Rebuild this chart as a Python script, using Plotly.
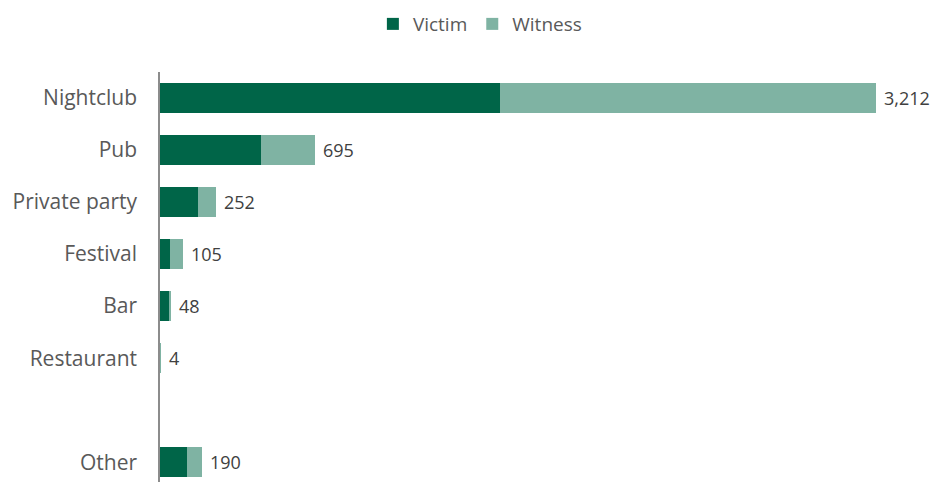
import plotly.graph_objects as go

# Incident locations (top to bottom); blank slot separates "Other"
categories = ["Nightclub", "Pub", "Private party", "Festival", "Bar", "Restaurant", " ", "Other"]
victim = [1523, 454, 170, 43, 39, 3, None, 123]
witness = [1689, 241, 82, 62, 9, 1, None, 67]
totals = [3212, 695, 252, 105, 48, 4, None, 190]
total_labels = ["3,212", "695", "252", "105", "48", "4", "", "190"]

VICTIM_COLOR = "#006548"
WITNESS_COLOR = "#7fb3a3"
TEXT_COLOR = "#595959"
FONT = "Open Sans"

fig = go.Figure()
fig.add_trace(go.Bar(
    y=categories, x=victim, name="Victim", orientation="h",
    marker=dict(color=VICTIM_COLOR, line=dict(width=0)), width=0.58,
))
fig.add_trace(go.Bar(
    y=categories, x=witness, name="Witness", orientation="h",
    marker=dict(color=WITNESS_COLOR, line=dict(width=0)), width=0.58,
))

# Total labels at the end of each stacked bar
for cat, tot, lab in zip(categories, totals, total_labels):
    if tot is None:
        continue
    fig.add_annotation(
        x=tot, y=cat, text=lab, showarrow=False,
        xanchor="left", yanchor="middle", xshift=6,
        font=dict(family=FONT, size=18, color="#404040"),
    )

fig.update_layout(
    width=936, height=482,
    barmode="stack",
    bargap=0.42,
    plot_bgcolor="white", paper_bgcolor="white",
    margin=dict(l=160, r=18, t=72, b=0),
    font=dict(family=FONT, size=18, color=TEXT_COLOR),
    showlegend=True,
    legend=dict(
        orientation="h", x=0.422, xanchor="center", y=1.117, yanchor="middle",
        font=dict(family=FONT, size=19, color=TEXT_COLOR),
        itemwidth=30, traceorder="normal",
    ),
    xaxis=dict(
        range=[0, 3400], showgrid=False, zeroline=False,
        showticklabels=False, ticks="", showline=False, fixedrange=True,
    ),
    yaxis=dict(
        categoryorder="array", categoryarray=categories,
        range=[7.38, -0.5], showgrid=False, zeroline=False,
        showline=True, linecolor="#8c8c8c", linewidth=1.5,
        ticks="", ticklabelstandoff=17,
        tickfont=dict(family=FONT, size=21, color=TEXT_COLOR),
    ),
)

fig.write_html("out.html")
